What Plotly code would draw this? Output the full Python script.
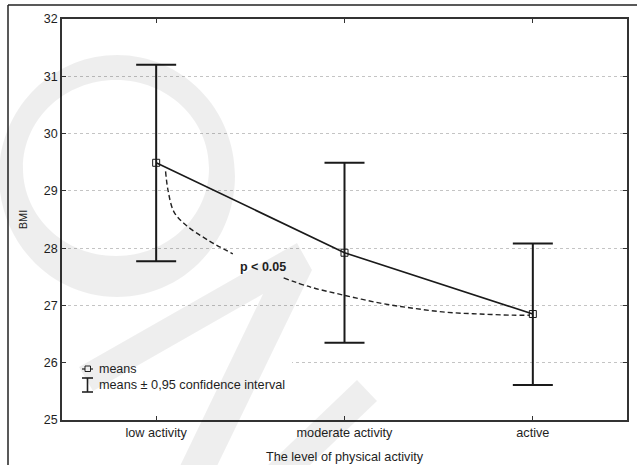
import plotly.graph_objects as go

# ---------------- data ----------------
categories = ["low activity", "moderate activity", "active"]
cat_pos = [0, 1, 2]
bmi_mean = [29.49, 27.92, 26.85]
ci_upper = [31.20, 29.49, 28.08]
ci_lower = [27.77, 26.35, 25.61]

y_ticks = [25, 26, 27, 28, 29, 30, 31, 32]

# dashed "p < 0.05" bracket (two pieces, gap for the label)
sig_x1 = [0.05, 0.063, 0.095, 0.159, 0.275, 0.407]
sig_y1 = [29.34, 29.01, 28.63, 28.40, 28.14, 27.90]
sig_x2 = [0.677, 0.82, 0.995, 1.19, 1.365, 1.545, 1.72, 1.894, 1.984]
sig_y2 = [27.48, 27.32, 27.18, 27.04, 26.95, 26.88, 26.85, 26.83, 26.83]
sig_label = "p < 0.05"
sig_label_pos = (0.566, 27.67)

legend_means = "means"
legend_ci = "means ± 0,95 confidence interval"

# ---------------- layout geometry ----------------
W, H = 637, 465
L, R, T, B = 62, 10, 19, 45


def px(x):
    return (x - L) / (W - L - R)


def py(y):
    return (H - B - y) / (H - T - B)


def ellipse_path(cx, cy, rx, ry, reverse=False):
    kx, ky = 0.5523 * rx, 0.5523 * ry
    segs = [
        ((cx + rx, cy + ky), (cx + kx, cy + ry), (cx, cy + ry)),
        ((cx - kx, cy + ry), (cx - rx, cy + ky), (cx - rx, cy)),
        ((cx - rx, cy - ky), (cx - kx, cy - ry), (cx, cy - ry)),
        ((cx + kx, cy - ry), (cx + rx, cy - ky), (cx + rx, cy)),
    ]
    start = (cx + rx, cy)
    if reverse:
        pts = [start]
        for s in segs:
            pts.extend(s)
        pts = pts[::-1]
        start = pts[0]
        segs = [tuple(pts[i:i + 3]) for i in range(1, len(pts), 3)]
    d = "M %.5f,%.5f " % (px(start[0]), py(start[1]))
    for a, b, c in segs:
        d += "C %.5f,%.5f %.5f,%.5f %.5f,%.5f " % (px(a[0]), py(a[1]), px(b[0]), py(b[1]), px(c[0]), py(c[1]))
    return d + "Z "


def poly_path(pts):
    d = "M " + " L ".join("%.5f,%.5f" % (px(x), py(y)) for x, y in pts)
    return d + " Z"


FONT = "Arial, Liberation Sans, sans-serif"
TXT = "#1e1e1e"

fig = go.Figure()

for sx, sy in [(sig_x1, sig_y1), (sig_x2, sig_y2)]:
    fig.add_trace(go.Scatter(
        x=sx, y=sy, mode="lines", line=dict(color="#222", width=1.4, dash="5px,3px", shape="spline"),
        hoverinfo="skip", showlegend=False))

fig.add_trace(go.Scatter(
    x=cat_pos, y=bmi_mean, mode="lines+markers",
    line=dict(color="#1a1a1a", width=1.6),
    marker=dict(symbol="square-open", size=7, color="#1a1a1a", line=dict(width=1)),
    error_y=dict(type="data", symmetric=False,
                 array=[u - m for u, m in zip(ci_upper, bmi_mean)],
                 arrayminus=[m - l for m, l in zip(bmi_mean, ci_lower)],
                 color="#1a1a1a", thickness=2, width=20),
    showlegend=False))

shapes = []
# legend background (hides grid line)
shapes.append(dict(type="rect", xref="paper", yref="paper", x0=px(68), x1=px(292), y0=py(352), y1=py(399),
                   fillcolor="white", line=dict(width=0), layer="above"))
# legend icon: means
shapes.append(dict(type="line", xref="paper", yref="paper", x0=px(82), x1=px(93), y0=py(369), y1=py(369),
                   line=dict(color="#222", width=1.2), layer="above"))
shapes.append(dict(type="rect", xref="paper", yref="paper", x0=px(85), x1=px(90.5), y0=py(366), y1=py(371.5),
                   fillcolor="white", line=dict(color="#222", width=1), layer="above"))
# legend icon: I-beam
for (x0, y0, x1, y1) in [(87.5, 378, 87.5, 392), (82, 378, 93, 378), (82, 392, 93, 392)]:
    shapes.append(dict(type="line", xref="paper", yref="paper", x0=px(x0), x1=px(x1), y0=py(y0), y1=py(y1),
                       line=dict(color="#222", width=1.6), layer="above"))
# outer frame (top + left)
shapes.append(dict(type="line", xref="paper", yref="paper", x0=px(8), x1=px(637), y0=py(5), y1=py(5),
                   line=dict(color="#222", width=1.5), layer="above"))
shapes.append(dict(type="line", xref="paper", yref="paper", x0=px(8), x1=px(8), y0=py(5), y1=py(466),
                   line=dict(color="#222", width=1.5), layer="above"))
# watermark
WM = "rgba(0,0,0,0.065)"
ring = ellipse_path(117, 176, 118, 121) + ellipse_path(116, 168, 93, 88, reverse=True)
shapes.append(dict(type="path", xref="paper", yref="paper", path=ring, fillcolor=WM, line=dict(width=0),
                   layer="above"))
shapes.append(dict(type="path", xref="paper", yref="paper",
                   path=poly_path([(79, 367), (297, 243), (312, 270), (217, 466), (180, 466), (263, 294), (93, 391)]),
                   fillcolor=WM, line=dict(width=0), layer="above"))
shapes.append(dict(type="path", xref="paper", yref="paper",
                   path=poly_path([(267, 466), (357, 380), (377, 401), (309, 466)]),
                   fillcolor=WM, line=dict(width=0), layer="above"))

annotations = [
    dict(x=sig_label_pos[0], y=sig_label_pos[1], xref="x", yref="y", text="<b>%s</b>" % sig_label, showarrow=False,
         font=dict(family=FONT, size=12.5, color=TXT), xanchor="center", yanchor="middle"),
    dict(x=px(97), y=py(369), xref="paper", yref="paper", text=legend_means, showarrow=False,
         font=dict(family=FONT, size=12.5, color=TXT), xanchor="left", yanchor="middle"),
    dict(x=px(97), y=py(384.5), xref="paper", yref="paper", text=legend_ci, showarrow=False,
         font=dict(family=FONT, size=12.7, color=TXT), xanchor="left", yanchor="middle"),
]

fig.update_layout(
    width=W, height=H,
    margin=dict(l=L, r=R, t=T, b=B, autoexpand=False),
    paper_bgcolor="white", plot_bgcolor="white",
    font=dict(family=FONT, size=12, color=TXT),
    shapes=shapes, annotations=annotations,
    xaxis=dict(range=[-0.5, 2.5], tickvals=cat_pos, ticktext=categories, automargin=False,
               ticks="inside", ticklen=4, tickcolor="#333", showline=True, linecolor="#333", linewidth=1.5,
               mirror="ticks", showgrid=False, zeroline=False, tickfont=dict(size=12.7),
               title=dict(text="The level of physical activity", font=dict(size=12.7), standoff=13)),
    yaxis=dict(range=[25, 32], tickvals=y_ticks, ticks="inside", ticklen=4, tickcolor="#333", automargin=False,
               showline=True, linecolor="#333", linewidth=1.5, mirror="ticks",
               showgrid=True, gridcolor="#c4c4c4", griddash="dot", gridwidth=1, zeroline=False,
               tickfont=dict(size=12.5),
               title=dict(text="BMI", font=dict(size=11), standoff=14)),
)

fig.write_html("out.html", config={"displayModeBar": False},
               post_script="document.body.style.margin='0px';")
